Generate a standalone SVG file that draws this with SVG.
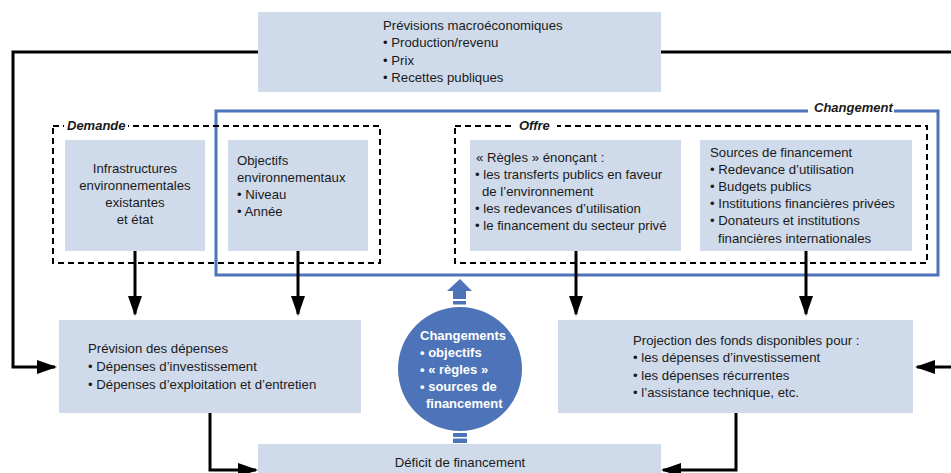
<svg xmlns="http://www.w3.org/2000/svg" width="951" height="473" viewBox="0 0 951 473">
<defs>
<style>
.box{fill:#cfdaeb}
.t{font-family:"Liberation Sans",Arial,sans-serif;font-size:13.2px;fill:#1a1a1a}
.c{text-anchor:middle}
.lbl{font-family:"Liberation Sans",Arial,sans-serif;font-size:13px;font-weight:bold;font-style:italic;fill:#1a1a1a}
.w{font-family:"Liberation Sans",Arial,sans-serif;font-size:13px;font-weight:bold;fill:#ffffff}
.ln{fill:none;stroke:#000;stroke-width:3}
.dash{fill:none;stroke:#000;stroke-width:2;stroke-dasharray:6 4}
.blue{fill:#4d74b8}
</style>
<marker id="ah" viewBox="0 0 20 14" refX="18" refY="7" markerWidth="20" markerHeight="14" markerUnits="userSpaceOnUse" orient="auto">
<path d="M0,0 L20,7 L0,14 Z" fill="#000"/>
</marker>
</defs>
<rect width="951" height="473" fill="#fff"/>

<g id="frames">
<rect x="216" y="111" width="722" height="164" fill="none" stroke="#4d74b8" stroke-width="3"/>
<rect x="808" y="102" width="86" height="16" fill="#fff"/>
<text class="lbl" x="814" y="112">Changement</text>
<rect x="53" y="126" width="327" height="137" class="dash"/>
<rect x="64" y="119" width="64" height="14" fill="#fff"/>
<text class="lbl" x="67" y="130">Demande</text>
<rect x="455" y="126" width="472" height="137" class="dash"/>
<rect x="513" y="119" width="44" height="14" fill="#fff"/>
<text class="lbl" x="519" y="130">Offre</text>
</g>

<g id="connectors">
<polyline class="ln" points="258,52 13,52 13,367 55,367" marker-end="url(#ah)"/>
<line class="ln" x1="661" y1="52" x2="951" y2="52"/>
<line class="ln" x1="951" y1="367" x2="917" y2="367" marker-end="url(#ah)"/>
<line class="ln" x1="135" y1="251" x2="135" y2="314" marker-end="url(#ah)"/>
<line class="ln" x1="298" y1="251" x2="298" y2="314" marker-end="url(#ah)"/>
<line class="ln" x1="576" y1="251" x2="576" y2="314" marker-end="url(#ah)"/>
<line class="ln" x1="806" y1="251" x2="806" y2="314" marker-end="url(#ah)"/>
<polyline class="ln" points="210,413 210,470 256,470" marker-end="url(#ah)"/>
<polyline class="ln" points="736,413 736,470 663,470" marker-end="url(#ah)"/>
<path class="blue" d="M460,279 L472,291 L466,291 L466,299 L453,299 L453,291 L447,291 Z"/>
<rect class="blue" x="453" y="301" width="13" height="3.5"/>
<rect class="blue" x="453" y="433" width="14" height="4"/>
<rect class="blue" x="453" y="438.5" width="14" height="4.5"/>
</g>

<g id="macro">
<rect class="box" x="258" y="12" width="403" height="80"/>
<text class="t" x="383" y="30">Prévisions macroéconomiques</text>
<text class="t" x="383" y="47">• Production/revenu</text>
<text class="t" x="383" y="65">• Prix</text>
<text class="t" x="383" y="82">• Recettes publiques</text>
</g>

<g id="infra">
<rect class="box" x="65" y="140" width="140" height="111"/>
<text class="t c" x="135" y="173">Infrastructures</text>
<text class="t c" x="135" y="190">environnementales</text>
<text class="t c" x="135" y="207">existantes</text>
<text class="t c" x="135" y="224">et état</text>
</g>

<g id="objectifs">
<rect class="box" x="228" y="140" width="140" height="111"/>
<text class="t" x="237" y="165">Objectifs</text>
<text class="t" x="237" y="182">environnementaux</text>
<text class="t" x="237" y="199">• Niveau</text>
<text class="t" x="237" y="216">• Année</text>
</g>

<g id="regles">
<rect class="box" x="470" y="140" width="211" height="111"/>
<text class="t" x="476" y="162">« Règles » énonçant :</text>
<text class="t" x="475" y="179">• les transferts publics en faveur</text>
<text class="t" x="482" y="196">de l’environnement</text>
<text class="t" x="475" y="213">• les redevances d’utilisation</text>
<text class="t" x="475" y="230">• le financement du secteur privé</text>
</g>

<g id="sources">
<rect class="box" x="700" y="140" width="212" height="111"/>
<text class="t" x="710" y="157">Sources de financement</text>
<text class="t" x="710" y="174">• Redevance d’utilisation</text>
<text class="t" x="710" y="191">• Budgets publics</text>
<text class="t" x="710" y="208">• Institutions financières privées</text>
<text class="t" x="710" y="225">• Donateurs et institutions</text>
<text class="t" x="718" y="243">financières internationales</text>
</g>

<g id="prevision">
<rect class="box" x="59" y="320" width="302" height="93"/>
<text class="t" x="88" y="353">Prévision des dépenses</text>
<text class="t" x="88" y="371">• Dépenses d’investissement</text>
<text class="t" x="88" y="389">• Dépenses d’exploitation et d’entretien</text>
</g>

<g id="projection">
<rect class="box" x="558" y="320" width="355" height="93"/>
<text class="t" x="633" y="345">Projection des fonds disponibles pour :</text>
<text class="t" x="633" y="362">• les dépenses d’investissement</text>
<text class="t" x="633" y="380">• les dépenses récurrentes</text>
<text class="t" x="633" y="397">• l’assistance technique, etc.</text>
</g>

<g id="changements">
<circle class="blue" cx="460" cy="369" r="62"/>
<text class="w" x="420" y="340">Changements</text>
<text class="w" x="420" y="357">• objectifs</text>
<text class="w" x="420" y="374">• « règles »</text>
<text class="w" x="420" y="391">• sources de</text>
<text class="w" x="426" y="408">financement</text>
</g>

<g id="deficit">
<rect class="box" x="258" y="444" width="403" height="35"/>
<text class="t c" x="460" y="467">Déficit de financement</text>
</g>
</svg>
